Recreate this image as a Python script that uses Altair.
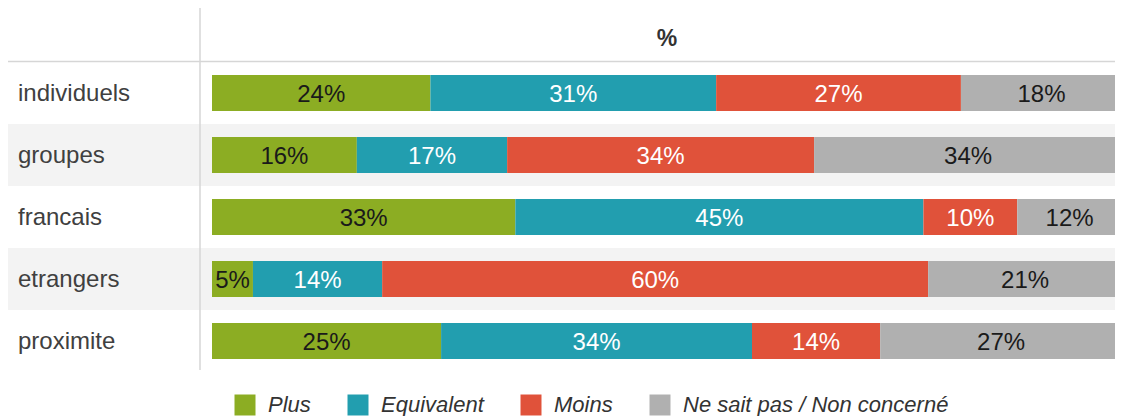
import altair as alt
import pandas as pd

categories = ["individuels", "groupes", "francais", "etrangers", "proximite"]
series = ["Plus", "Equivalent", "Moins", "Ne sait pas / Non concerné"]

# bar shares
plus_vals = [24.0, 15.9, 33.3, 4.5, 25.2]
equiv_vals = [31.4, 16.5, 44.8, 14.2, 34.2]
moins_vals = [26.9, 33.7, 10.3, 60.0, 14.1]
nsp_vals = [17.7, 33.8, 11.5, 21.3, 26.6]

# printed labels
plus_lab = [24, 16, 33, 5, 25]
equiv_lab = [31, 17, 45, 14, 34]
moins_lab = [27, 34, 10, 60, 14]
nsp_lab = [18, 34, 12, 21, 27]

colors = ["#8cad23", "#229eaf", "#e0523a", "#b0b0b0"]
text_colors = ["#1a1a1a", "#ffffff", "#ffffff", "#1a1a1a"]

vals = [plus_vals, equiv_vals, moins_vals, nsp_vals]
labs = [plus_lab, equiv_lab, moins_lab, nsp_lab]
rows = []
for i, c in enumerate(categories):
    for j, s in enumerate(series):
        rows.append({"cat": c, "series": s, "idx": j, "value": vals[j][i],
                     "label": f"{labs[j][i]}%"})
df = pd.DataFrame(rows)
cat_df = pd.DataFrame({"cat": categories, "row": list(range(len(categories)))})

W, H = 1107, 408
xscale = alt.Scale(domain=[0, 1], range=[204, 1114])
yscale = alt.Scale(domain=categories, range=[54, 364], paddingInner=0, paddingOuter=0)

bands = alt.Chart(cat_df).transform_filter("datum.row % 2 == 1").mark_rect(color="#f3f3f3").encode(
    y=alt.Y("cat:N", scale=yscale, axis=None),
    x=alt.value(0), x2=alt.value(W),
)

stacked = alt.Chart(df).transform_stack(
    stack="value", groupby=["cat"], as_=["x0", "x1"], offset="normalize",
    sort=[alt.SortField("idx", order="ascending")],
).transform_calculate(mid="(datum.x0 + datum.x1) / 2")

bars = stacked.mark_bar(size=36).encode(
    y=alt.Y("cat:N", scale=yscale, axis=None),
    x=alt.X("x0:Q", scale=xscale, axis=None),
    x2="x1:Q",
    color=alt.Color("series:N", scale=alt.Scale(domain=series, range=colors), title=None,
                    legend=alt.Legend(orient="none", legendX=226, legendY=386,
                                      direction="horizontal", symbolType="square",
                                      symbolSize=441, symbolStrokeWidth=0,
                                      labelFontSize=22, labelFontStyle="italic",
                                      labelFont="Liberation Sans", labelColor="#333333",
                                      labelOffset=12, columnPadding=36, padding=0,
                                      labelLimit=500)),
)

values_text = stacked.mark_text(fontSize=24, font="Liberation Sans", baseline="middle", dy=1.5).encode(
    y=alt.Y("cat:N", scale=yscale, axis=None),
    x=alt.X("mid:Q", scale=xscale, axis=None),
    text="label:N",
    color=alt.Color("series:N", scale=alt.Scale(domain=series, range=text_colors), legend=None),
)

row_labels = alt.Chart(cat_df).mark_text(fontSize=24, font="Liberation Sans", align="left",
                                          baseline="middle", color="#404040", dy=0.5).encode(
    y=alt.Y("cat:N", scale=yscale, axis=None),
    x=alt.value(10),
    text="cat:N",
)

header = alt.Chart(pd.DataFrame({"h": ["%"]})).mark_text(
    fontSize=23, fontWeight="bold", font="Liberation Sans", color="#333333", baseline="middle"
).encode(x=alt.value(659), y=alt.value(31), text="h:N")

vline = alt.Chart(pd.DataFrame({"a": [0]})).mark_rule(color="#d6d6d6", strokeWidth=1.5).encode(
    x=alt.value(192), y=alt.value(0), y2=alt.value(362))
hline = alt.Chart(pd.DataFrame({"a": [0]})).mark_rule(color="#d6d6d6", strokeWidth=1.5).encode(
    y=alt.value(53.5), x=alt.value(0), x2=alt.value(W))

chart = alt.layer(bands, vline, hline, bars, values_text, row_labels, header).resolve_scale(
    color="independent"
).properties(
    width=W, height=H, autosize=alt.AutoSizeParams(type="none"), padding=0
).configure_view(stroke=None)

chart.save("out.html", embed_options={"renderer": "svg", "actions": False})
